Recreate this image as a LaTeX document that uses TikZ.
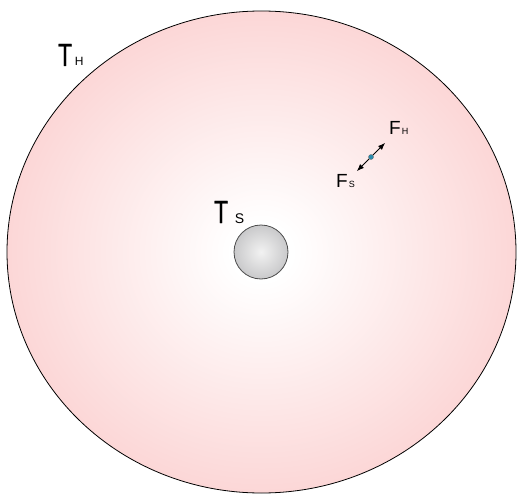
\documentclass[tikz,border=0pt]{standalone}
\usepackage{fontspec}
\setmainfont{Liberation Sans}
\newfontfamily\narrowfont[FakeStretch=0.7,FakeBold=1]{Liberation Sans}
\usetikzlibrary{arrows.meta}
\definecolor{HaloPink}{RGB}{249,180,180}
\definecolor{CoreLight}{RGB}{242,242,242}
\definecolor{CoreEdge}{RGB}{160,160,163}
\definecolor{DotBlue}{RGB}{40,140,175}
\pgfdeclareradialshading{halo}{\pgfpoint{0bp}{0bp}}{color(0bp)=(white); color(3bp)=(white); color(44bp)=(HaloPink); color(50bp)=(HaloPink)}
\pgfdeclareradialshading{core}{\pgfpoint{0bp}{0bp}}{color(0bp)=(CoreLight); color(50bp)=(CoreEdge)}
\tikzset{
  halo/.style={draw=black, line width=0.8pt, shading=halo},
  core/.style={draw=black!70, line width=0.8pt, shading=core},
  bigsym/.style={anchor=base west, inner sep=0pt, font=\fontsize{32}{32}\selectfont},
  smallsym/.style={anchor=base west, inner sep=0pt, font=\fontsize{19}{19}\selectfont},
  forcewire/.style={{Latex[length=7pt,width=5.5pt]}-{Latex[length=7pt,width=5.5pt]}, line width=0.8pt},
  forcedot/.style={circle, fill=DotBlue, draw=black!60, line width=0.3pt, inner sep=0pt, minimum size=5pt}
}
\newcommand{\narrowT}{{\narrowfont T}}

\begin{document}
\begin{tikzpicture}[x=1pt, y=-1pt]
  \useasboundingbox (0,0) rectangle (517,495);
  % heat bath and sphere
  \path[halo] (261.5,252) ellipse [x radius=254.5, y radius=241];
  \path[core] (261,252) circle [radius=27];
  % temperatures
  \node[bigsym] (th) at (58,66) {\narrowT\hspace{3pt}{\fontsize{12}{12}\selectfont H}};
  \node[bigsym] (ts) at (214,223) {\narrowT\hspace{7pt}{\fontsize{14}{14}\selectfont S}};
  % forces
  \node[smallsym] (fh) at (389,135) {F\hspace{1pt}{\fontsize{9}{9}\selectfont H}};
  \node[smallsym] (fs) at (336,187) {F\hspace{1pt}{\fontsize{9}{9}\selectfont S}};
  \coordinate (fhtip) at (385,143);
  \coordinate (fstip) at (357,171);
  \draw[forcewire] (fstip) -- node[forcedot] (probe) {} (fhtip);
\end{tikzpicture}
\end{document}
